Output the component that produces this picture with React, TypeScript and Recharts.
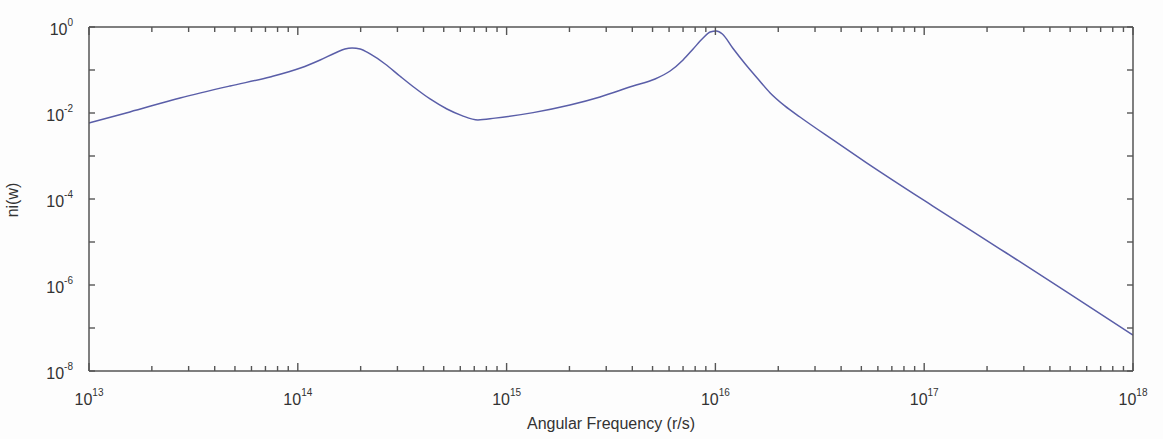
import { LineChart, Line, XAxis, YAxis } from 'recharts'

// readings (angular frequency in r/s, ni(w))
const freq = [
  1.0e13, 1.57e13, 2.73e13, 4.74e13, 7.37e13, 1.03e14, 1.28e14, 1.51e14, 1.68e14, 1.82e14,
  1.99e14, 2.22e14, 2.62e14, 3.08e14, 3.64e14, 4.3e14, 5.18e14, 6.11e14, 7.29e14, 8.8e14,
  1.34e15, 2.01e15, 2.8e15, 4.03e15, 5.14e15, 6.07e15, 7.0e15, 7.82e15, 8.73e15, 9.44e15,
  1.01e16, 1.08e16, 1.21e16, 1.39e16, 1.6e16, 1.83e16, 2.15e16, 2.54e16, 3.66e16, 5.32e16,
  1.1e17, 2.31e17, 4.83e17, 1.0e18,
]
const ni = [
  5.85e-3, 1.06e-2, 2.23e-2, 4.25e-2, 6.88e-2, 0.111, 0.171, 0.249, 0.308, 0.325,
  0.308, 0.236, 0.138, 0.0725, 0.0381, 0.0212, 0.0124, 8.7e-3, 6.9e-3, 7.6e-3,
  0.0102, 0.0153, 0.0236, 0.0425, 0.0618, 0.0948, 0.171, 0.308, 0.555, 0.765,
  0.807, 0.687, 0.325, 0.138, 0.0618, 0.0292, 0.0146, 8.07e-3, 2.36e-3, 6.87e-4,
  6.87e-5, 6.87e-6, 6.87e-7, 6.87e-8,
]

const xDecades = [13, 14, 15, 16, 17, 18]
const yDecades = [-8, -7, -6, -5, -4, -3, -2, -1, 0]
const yLabelled = [-8, -6, -4, -2, 0]
const minorMult = [2, 3, 4, 5, 6, 7, 8, 9]

const W = 1163
const H = 439
const LEFT = 89
const RIGHT = 1133
const TOP = 27
const BOTTOM = 371
const FRAME = '#555'
const LINE = '#5a5ea8'
const FONT = 'Liberation Sans, Arial, sans-serif'

const data = freq.map((w, i) => ({ w, ni: ni[i] }))

const xTicks: number[] = []
xDecades.forEach((d) => {
  xTicks.push(10 ** d)
  if (d < 18) minorMult.forEach((m) => xTicks.push(m * 10 ** d))
})
const yTicks = yDecades.map((d) => 10 ** d)

const isDecade = (v: number) => Math.abs(Math.log10(v) - Math.round(Math.log10(v))) < 1e-6

function BottomTick(props: any) {
  const { x, payload } = props
  const v = payload.value
  const major = isDecade(v)
  const exp = Math.round(Math.log10(v))
  const len = major ? 8 : 5
  return (
    <g>
      <path d={`M${x},${BOTTOM}V${BOTTOM - len}`} stroke={FRAME} strokeWidth={1.4} fill="none" />
      {major && (
        <text x={x} y={405} textAnchor="middle" fontFamily={FONT} fontSize={16} fill="#333">
          10
          <tspan dy={-9} fontSize={10}>{exp}</tspan>
        </text>
      )}
    </g>
  )
}

function TopTick(props: any) {
  const { x, payload } = props
  const len = isDecade(payload.value) ? 8 : 5
  return (
    <g>
      <path d={`M${x},${TOP}V${TOP + len}`} stroke={FRAME} strokeWidth={1.4} fill="none" />
    </g>
  )
}

function LeftTick(props: any) {
  const { y, payload } = props
  const exp = Math.round(Math.log10(payload.value))
  const show = yLabelled.includes(exp)
  return (
    <g>
      <path d={`M${LEFT},${y}H${LEFT + 6}`} stroke={FRAME} strokeWidth={1.4} fill="none" />
      {show && (
        <text x={73} y={y + 8} textAnchor="end" fontFamily={FONT} fontSize={16} fill="#333">
          10
          <tspan dy={-9} fontSize={10}>{exp}</tspan>
        </text>
      )}
    </g>
  )
}

function RightTick(props: any) {
  const { y } = props
  return (
    <g>
      <path d={`M${RIGHT},${y}H${RIGHT - 6}`} stroke={FRAME} strokeWidth={1.4} fill="none" />
    </g>
  )
}

export default function App() {
  return (
    <div style={{ position: 'absolute', left: 0, top: 0, width: W, height: H, background: '#fdfdfd' }}>
      <LineChart
        width={W}
        height={H}
        data={data}
        margin={{ top: TOP - 10, right: W - RIGHT - 10, bottom: H - BOTTOM - 30, left: LEFT - 60 }}
      >
        <XAxis
          xAxisId="b"
          dataKey="w"
          type="number"
          scale="log"
          domain={[1e13, 1e18]}
          ticks={xTicks}
          interval={0}
          allowDataOverflow
          height={30}
          axisLine={{ stroke: FRAME, strokeWidth: 1.5 }}
          tickLine={false}
          tick={BottomTick}
        />
        <XAxis
          xAxisId="t"
          orientation="top"
          dataKey="w"
          type="number"
          scale="log"
          domain={[1e13, 1e18]}
          ticks={xTicks}
          interval={0}
          allowDataOverflow
          height={10}
          axisLine={{ stroke: FRAME, strokeWidth: 1.5 }}
          tickLine={false}
          tick={TopTick}
        />
        <YAxis
          yAxisId="l"
          type="number"
          scale="log"
          domain={[1e-8, 1]}
          ticks={yTicks}
          interval={0}
          allowDataOverflow
          width={60}
          axisLine={{ stroke: FRAME, strokeWidth: 1.5 }}
          tickLine={false}
          tick={LeftTick}
        />
        <YAxis
          yAxisId="r"
          orientation="right"
          type="number"
          scale="log"
          domain={[1e-8, 1]}
          ticks={yTicks}
          interval={0}
          allowDataOverflow
          width={10}
          axisLine={{ stroke: FRAME, strokeWidth: 1.5 }}
          tickLine={false}
          tick={RightTick}
        />
        <Line
          xAxisId="b"
          yAxisId="l"
          dataKey="ni"
          type="monotone"
          stroke={LINE}
          strokeWidth={1.5}
          dot={false}
          isAnimationActive={false}
        />
        <text x={611} y={429} textAnchor="middle" fontFamily={FONT} fontSize={16} fill="#333">
          Angular Frequency (r/s)
        </text>
        <text
          x={18}
          y={200}
          textAnchor="middle"
          fontFamily={FONT}
          fontSize={16}
          fill="#333"
          transform="rotate(-90 18 200)"
        >
          ni(w)
        </text>
      </LineChart>
    </div>
  )
}
